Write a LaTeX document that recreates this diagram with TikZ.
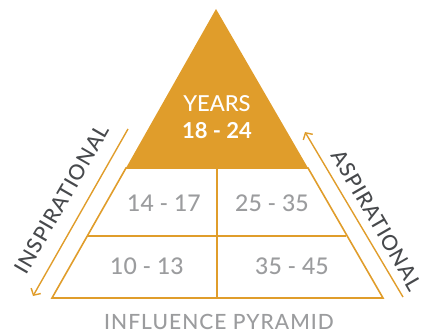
\documentclass[tikz,border=0pt]{standalone}
\usepackage{fontspec}
\setmainfont{Lato}
\newfontfamily\latomed{Lato Medium}
\newfontfamily\latowide[LetterSpace=5]{Lato Medium}
\usepackage{xcolor}
\definecolor{PyramidOrange}{RGB}{224, 157, 43}
\definecolor{AgeGray}{RGB}{155, 156, 158}
\definecolor{SideDark}{RGB}{71, 73, 76}
\usepackage{tikz}
\usetikzlibrary{positioning,arrows.meta}

\begin{document}
\begin{tikzpicture}[x=1pt, y=-1pt,
	edge/.style={draw=PyramidOrange, line width=1.6pt, line join=miter},
	side/.style={draw=PyramidOrange, line width=1.4pt, -{Straight Barb[length=5pt, width=11pt]}},
	age/.style={inner sep=0pt, text=AgeGray, font=\latomed\fontsize{23}{26}\selectfont},
	sidetext/.style={inner sep=0pt, text=SideDark, font=\latowide\fontsize{21}{24}\selectfont}]
	\useasboundingbox (0,0) rectangle (423,334);
	% pyramid corners
	\coordinate (apex) at (216,9);
	\coordinate (tl) at (126,168);
	\coordinate (tr) at (308,168);
	\coordinate (ml) at (87,236);
	\coordinate (mr) at (346,236);
	\coordinate (bl) at (52,298);
	\coordinate (br) at (383,298);
	\coordinate (dtop) at (217,168);
	\coordinate (dbot) at (217,298);
	% arrow ends
	\coordinate (inA) at (128,129);
	\coordinate (inB) at (33,296);
	\coordinate (asA) at (403,297);
	\coordinate (asB) at (305,132);
	\fill[PyramidOrange] (apex) -- (tr) -- (tl) -- cycle;
	\draw[edge] (tl) -- (bl) -- (br) -- (tr) -- cycle;
	\draw[edge] (ml) -- (mr);
	\draw[edge] (dtop) -- (dbot);
	\draw[side] (inA) -- (inB);
	\draw[side] (asA) -- (asB);
	% labels
	\node[inner sep=0pt, text=white, font=\latomed\fontsize{22}{26}\selectfont] (years) at (217,104) {YEARS};
	\node[inner sep=0pt, text=white, font=\fontsize{22}{26}\selectfont\bfseries] (top) at (217,131) {18 - 24};
	\node[age] (a1417) at (164,203) {14 - 17};
	\node[age] (a2535) at (272,203) {25 - 35};
	\node[age] (a1013) at (147,266) {10 - 13};
	\node[age] (a3545) at (292,266) {35 - 45};
	\node[inner sep=0pt, text=AgeGray, font=\latowide\fontsize{21}{24}\selectfont] (title) at (219,322) {INFLUENCE PYRAMID};
	\node[sidetext, rotate=60] (insp) at (62,199) {INSPIRATIONAL};
	\node[sidetext, rotate=-60] (asp) at (377,220) {ASPIRATIONAL};
\end{tikzpicture}
\end{document}
